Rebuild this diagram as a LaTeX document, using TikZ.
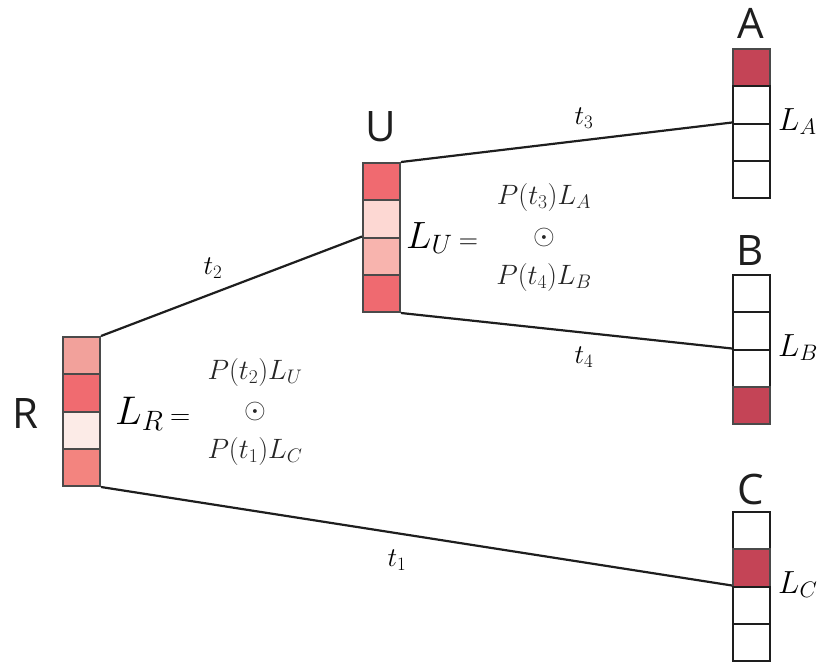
\RequirePackage{fix-cm}
\documentclass[tikz,border=0pt]{standalone}
\usepackage{fontspec}
\setsansfont{Open Sans}
\definecolor{rA}{HTML}{F2A19B}
\definecolor{rB}{HTML}{F06B70}
\definecolor{rC}{HTML}{FCEBE7}
\definecolor{rD}{HTML}{F3847F}
\definecolor{uA}{HTML}{F06A70}
\definecolor{uB}{HTML}{FDD8D3}
\definecolor{uC}{HTML}{F8B4AE}
\definecolor{uD}{HTML}{EF6A70}
\definecolor{hot}{HTML}{C44456}
\definecolor{edgecol}{HTML}{1E1E1E}
\definecolor{cellgray}{HTML}{4A4A4A}
\begin{document}
\begin{tikzpicture}[x=1pt,y=-1pt,
  cell/.style={draw=cellgray, line width=2pt, minimum width=37pt, minimum height=37.25pt, inner sep=0pt, anchor=north west},
  wcell/.style={cell, draw=edgecol, fill=white},
  conn/.style={draw=edgecol, line width=2.2pt},
  big/.style={font=\sffamily\fontsize{42}{44}\selectfont, text=edgecol, inner sep=0pt},
  tlab/.style={font=\fontsize{27}{29}\selectfont, inner sep=0pt},
  plab/.style={font=\fontsize{28}{30}\selectfont, inner sep=0pt, text=black!85},
  llab/.style={inner sep=0pt, anchor=base west},
]
\useasboundingbox (0,0) rectangle (821,662);
% R column
\node[cell, fill=rA] (R1) at (62,336) {};
\node[cell, fill=rB] (R2) at (62,373.25) {};
\node[cell, fill=rC] (R3) at (62,410.5) {};
\node[cell, fill=rD] (R4) at (62,447.75) {};
% U column
\node[cell, fill=uA] (U1) at (362,162) {};
\node[cell, fill=uB] (U2) at (362,199.25) {};
\node[cell, fill=uC] (U3) at (362,236.5) {};
\node[cell, fill=uD] (U4) at (362,273.75) {};
% A column
\node[cell, fill=hot] (A1) at (732,48) {};
\node[wcell] (A2) at (732,85.25) {};
\node[wcell] (A3) at (732,122.5) {};
\node[wcell] (A4) at (732,159.75) {};
% B column
\node[wcell] (B1) at (732,274) {};
\node[wcell] (B2) at (732,311.25) {};
\node[wcell] (B3) at (732,348.5) {};
\node[cell, fill=hot] (B4) at (732,385.75) {};
% C column
\node[wcell] (C1) at (732,511) {};
\node[cell, fill=hot] (C2) at (732,548.25) {};
\node[wcell] (C3) at (732,585.5) {};
\node[wcell] (C4) at (732,622.75) {};
% titles
\node[big] (Rt) at (25,413) {R};
\node[big] (Ut) at (380.5,127) {U};
\node[big] (At) at (750.5,23.5) {A};
\node[big] (Bt) at (750.5,251) {B};
\node[big] (Ct) at (750.5,489) {C};
% connectors
\draw[conn] (R1.north east) -- (U3.north west);
\draw[conn] (R4.south east) -- (C3.north west);
\draw[conn] (U1.north east) -- (A3.north west);
\draw[conn] (U4.south east) -- (B3.north west);
% edge labels
\node[tlab] (t2) at (213,268) {$t_2$};
\node[tlab] (t1) at (397,560) {$t_1$};
\node[tlab] (t3) at (584,118) {$t_3$};
\node[tlab] (t4) at (584,357) {$t_4$};
% formulas
\node[llab, font=\fontsize{40}{42}\selectfont] (LR) at (115,424) {$L_{\scriptstyle R}{\,\scriptstyle =}$};
\node[plab] (PR1) at (255,372) {$P(t_2)L_U$};
\node[plab] (PRo) at (255,411) {$\odot$};
\node[plab] (PR2) at (255,451) {$P(t_1)L_C$};
\node[llab, font=\fontsize{38}{40}\selectfont] (LU) at (406,248) {$L_{\scriptstyle U}{\,\scriptstyle =}$};
\node[plab] (PU1) at (544,197) {$P(t_3)L_A$};
\node[plab] (PUo) at (544,237) {$\odot$};
\node[plab] (PU2) at (544,277) {$P(t_4)L_B$};
\node[llab, font=\fontsize{32}{34}\selectfont] (LA) at (778,130) {$L_{\scriptstyle A}$};
\node[llab, font=\fontsize{32}{34}\selectfont] (LB) at (778,356) {$L_{\scriptstyle B}$};
\node[llab, font=\fontsize{32}{34}\selectfont] (LC) at (778,593) {$L_{\scriptstyle C}$};
\end{tikzpicture}
\end{document}
